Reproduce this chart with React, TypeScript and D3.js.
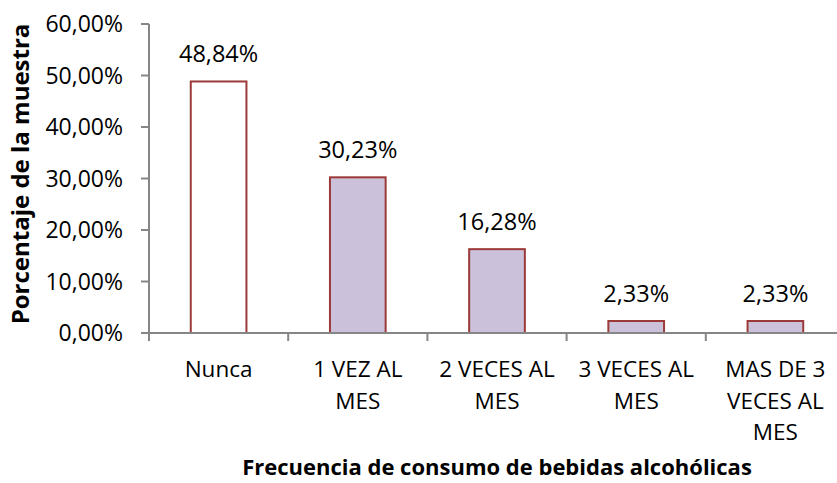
import React from 'react';
import * as d3 from 'd3';

const categories = [
  ['Nunca'],
  ['1 VEZ AL', 'MES'],
  ['2 VECES AL', 'MES'],
  ['3 VECES AL', 'MES'],
  ['MAS DE 3', 'VECES AL', 'MES'],
];
const values = [48.84, 30.23, 16.28, 2.33, 2.33];
const fills = ['#FFFFFF', '#CCC1DA', '#CCC1DA', '#CCC1DA', '#CCC1DA'];
const yTicks = [0, 10, 20, 30, 40, 50, 60];

const W = 837;
const H = 483;
const FONT = "'Open Sans', sans-serif";

const fmt = (v: number) => v.toFixed(2).replace('.', ',') + '%';

const App: React.FC = () => {
  const x = d3.scaleBand<number>()
    .domain(d3.range(categories.length))
    .range([149, 845])
    .padding(0);
  const y = d3.scaleLinear().domain([0, 60]).range([333, 24]);

  const barW = x.bandwidth() * 0.4;
  const axisColor = '#868686';

  return (
    <svg width={W} height={H} style={{ position: 'absolute', left: 0, top: 0 }} fontFamily={FONT}>
      <rect width={W} height={H} fill="#fff" />

      {/* bars */}
      {values.map((v, i) => (
        <rect
          key={i}
          x={x(i)! + (x.bandwidth() - barW) / 2}
          y={y(v)}
          width={barW}
          height={y(0) - y(v)}
          fill={fills[i]}
          stroke="#9B3A38"
          strokeWidth={2}
        />
      ))}

      {/* y axis */}
      <line x1={149} x2={149} y1={y(60)} y2={341} stroke={axisColor} strokeWidth={2} />
      {yTicks.map(t => (
        <g key={t}>
          <line x1={141} x2={149} y1={y(t)} y2={y(t)} stroke={axisColor} strokeWidth={2} />
          <text x={123} y={y(t) + 8} textAnchor="end" fontSize={23} fill="#000">
            {fmt(t)}
          </text>
        </g>
      ))}

      {/* x axis */}
      <line x1={149} x2={W} y1={y(0)} y2={y(0)} stroke={axisColor} strokeWidth={2} />
      {d3.range(1, categories.length).map(i => (
        <line key={i} x1={x(i)!} x2={x(i)!} y1={y(0)} y2={341} stroke={axisColor} strokeWidth={2} />
      ))}

      {/* category labels */}
      {categories.map((lines, i) => (
        <text key={i} textAnchor="middle" fontSize={22.5} fill="#000">
          {lines.map((l, j) => (
            <tspan key={j} x={x(i)! + x.bandwidth() / 2} y={377 + j * 31.5}>{l}</tspan>
          ))}
        </text>
      ))}

      {/* data labels */}
      {values.map((v, i) => (
        <text
          key={i}
          x={x(i)! + x.bandwidth() / 2}
          y={y(v) - 19}
          textAnchor="middle"
          fontSize={23.5}
          fill="#000"
        >
          {fmt(v)}
        </text>
      ))}

      {/* axis titles */}
      <text
        transform={`translate(29,174) rotate(-90)`}
        textAnchor="middle"
        fontSize={24}
        fontWeight="bold"
        fill="#000"
      >
        Porcentaje de la muestra
      </text>
      <text x={497} y={475} textAnchor="middle" fontSize={22} fontWeight="bold" fill="#000">
        Frecuencia de consumo de bebidas alcohólicas
      </text>
    </svg>
  );
};

export default App;
